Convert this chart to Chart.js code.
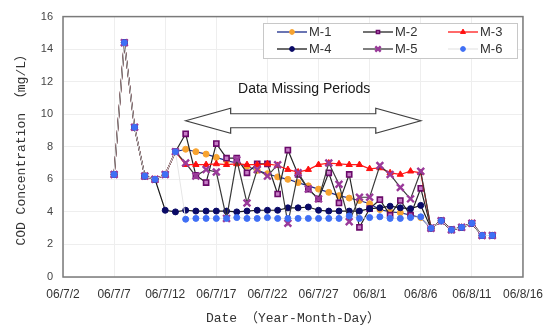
<!DOCTYPE html>
<html>
<head>
<meta charset="utf-8">
<script src="https://cdn.jsdelivr.net/npm/chart.js@4.4.1/dist/chart.umd.min.js"></script>
<style>
  html, body { margin: 0; padding: 0; background: #ffffff; }
  #wrap { width: 553px; height: 330px; }
</style>
</head>
<body>
<div id="wrap"><canvas id="c" width="553" height="330"></canvas></div>
<script>
// Sampling dates (YY/M/D)
const dates = [
  '06/7/7','06/7/8','06/7/9','06/7/10','06/7/11','06/7/12','06/7/13','06/7/14',
  '06/7/15','06/7/16','06/7/17','06/7/18','06/7/19','06/7/20','06/7/21','06/7/22',
  '06/7/23','06/7/24','06/7/25','06/7/26','06/7/27','06/7/28','06/7/29','06/7/30',
  '06/7/31','06/8/1','06/8/2','06/8/3','06/8/4','06/8/5','06/8/6','06/8/7',
  '06/8/8','06/8/9','06/8/10','06/8/11','06/8/12','06/8/13'
];

// COD concentration (mg/L) per monitoring point
const m1 = [6.3,14.4,9.2,6.2,6.0,6.3,7.7,7.85,7.7,7.55,7.35,7.15,7.0,6.8,6.55,6.35,6.15,6.0,5.8,5.6,5.4,5.2,5.0,4.85,4.7,4.5,4.15,4.0,3.95,3.8,3.65,3.0,3.45,2.9,3.05,3.3,2.55,2.55];
const m2 = [6.3,14.4,9.2,6.2,6.0,6.3,7.7,8.8,6.25,5.8,8.2,7.3,7.3,6.4,6.95,6.95,5.1,7.8,6.3,5.4,4.8,6.4,4.55,6.3,3.05,4.2,4.75,3.8,4.7,3.8,5.45,3.0,3.45,2.9,3.05,3.3,2.55,2.55];
const m3 = [6.3,14.4,9.2,6.2,6.0,6.3,7.7,6.9,6.9,6.9,6.95,6.9,6.95,6.9,6.9,6.95,6.85,6.6,6.45,6.6,6.9,7.0,6.95,6.9,6.9,6.65,6.7,6.4,6.3,6.5,6.4,3.0,3.45,2.9,3.05,3.3,2.55,2.55];
const m4 = [6.3,14.4,9.2,6.2,6.0,4.1,4.0,4.1,4.05,4.05,4.05,4.05,4.0,4.05,4.1,4.1,4.1,4.25,4.25,4.3,4.1,4.05,4.05,4.05,4.05,4.2,4.25,4.35,4.25,4.2,4.4,3.0,3.45,2.9,3.05,3.3,2.55,2.55];
const m5 = [6.3,14.4,9.2,6.2,6.0,6.3,7.7,7.0,6.2,6.6,6.45,3.6,7.2,4.55,6.6,6.2,6.9,3.3,6.4,5.4,4.8,7.0,5.7,3.4,4.9,4.9,6.85,6.3,5.5,4.8,6.5,3.0,3.45,2.9,3.05,3.3,2.55,2.55];
const m6 = [6.3,14.4,9.2,6.2,6.0,6.3,7.7,3.55,3.6,3.6,3.6,3.6,3.65,3.6,3.6,3.65,3.6,3.6,3.6,3.6,3.6,3.6,3.6,3.75,3.6,3.65,3.7,3.6,3.6,3.65,3.7,3.0,3.45,2.9,3.05,3.3,2.55,2.55];

// x-axis tick labels, one every 5 days starting 06/7/2
const tickLabels = ['06/7/2','06/7/7','06/7/12','06/7/17','06/7/22','06/7/27','06/8/1','06/8/6','06/8/11','06/8/16'];

const seriesNames = ['M-1','M-2','M-3','M-4','M-5','M-6'];

// Gap in data shown by the double arrow (days since 06/7/2, concentration level)
const gapFrom = 12.0, gapTo = 35.0, gapLevel = 9.6;
const gapText = 'Data Missing Periods';

// days elapsed since 06/7/2
function dayOf(s) {
  const p = s.split('/');
  const m = +p[1], d = +p[2];
  return m === 7 ? d - 2 : d + 29;
}
function pts(vals) { return dates.map((d, i) => ({ x: dayOf(d), y: vals[i] })); }

const styles = [
  { line: '#1a2a8a', lw: 1.1, ps: 'circle',   r: 3,   bg: '#f7a330', bc: '#f7a330', bw: 1 },
  { line: '#262626', lw: 1.2, ps: 'rect',     r: 3.6, bg: '#c77dc7', bc: '#6a0a6a', bw: 1.6 },
  { line: '#ff1a1a', lw: 1.2, ps: 'triangle', r: 3.6, bg: '#ff1010', bc: '#ff1010', bw: 1 },
  { line: '#1a1a1a', lw: 1.2, ps: 'circle',   r: 3,   bg: '#0a0a66', bc: '#0a0a66', bw: 1 },
  { line: '#3a3a3a', lw: 1.2, ps: 'crossRot', r: 4.8, bg: '#9a3a9a', bc: '#9a3a9a', bw: 2.4 },
  { line: '#e6e6e6', lw: 1.0, ps: 'circle',   r: 3,   bg: '#3f6ff5', bc: '#3f6ff5', bw: 1 }
];

const seriesValues = [m1, m2, m3, m4, m5, m6];

const datasets = seriesValues.map((v, i) => ({
  label: seriesNames[i],
  data: pts(v),
  borderColor: styles[i].line,
  borderWidth: styles[i].lw,
  pointStyle: styles[i].ps,
  pointRadius: styles[i].r,
  pointBackgroundColor: styles[i].bg,
  pointBorderColor: styles[i].bc,
  pointBorderWidth: styles[i].bw,
  tension: 0,
  fill: false,
  order: 6 - i   // later series paint over earlier ones
}));

function drawMarker(ctx, st, x, y) {
  ctx.save();
  ctx.fillStyle = st.bg;
  ctx.strokeStyle = st.bc;
  ctx.lineWidth = st.bw;
  const r = st.r;
  ctx.beginPath();
  if (st.ps === 'circle') {
    ctx.arc(x, y, r, 0, Math.PI * 2);
    ctx.fill(); ctx.stroke();
  } else if (st.ps === 'rect') {
    const s = r * Math.SQRT1_2 * 2 * 0.75;
    ctx.rect(x - s / 2, y - s / 2, s, s);
    ctx.fill(); ctx.stroke();
  } else if (st.ps === 'triangle') {
    ctx.moveTo(x, y - r);
    ctx.lineTo(x + r * 0.87, y + r * 0.5);
    ctx.lineTo(x - r * 0.87, y + r * 0.5);
    ctx.closePath();
    ctx.fill(); ctx.stroke();
  } else if (st.ps === 'crossRot') {
    const d = r * 0.7;
    ctx.moveTo(x - d, y - d); ctx.lineTo(x + d, y + d);
    ctx.moveTo(x + d, y - d); ctx.lineTo(x - d, y + d);
    ctx.stroke();
  }
  ctx.restore();
}

// frame around the plotting area
const frame = {
  id: 'frame',
  afterDraw(chart) {
    const a = chart.chartArea, ctx = chart.ctx;
    ctx.save();
    ctx.strokeStyle = '#7a7a7a';
    ctx.lineWidth = 1.5;
    ctx.strokeRect(a.left, a.top, a.right - a.left, a.bottom - a.top);
    ctx.restore();
  }
};

// double-headed block arrow marking the gap period, with its caption
const gapArrow = {
  id: 'gapArrow',
  afterDatasetsDraw(chart) {
    const xs = chart.scales.x, ys = chart.scales.y, ctx = chart.ctx;
    const x0 = xs.getPixelForValue(gapFrom), x1 = xs.getPixelForValue(gapTo);
    const yc = ys.getPixelForValue(gapLevel);
    const head = 45, bh = 7, hh = 12.5;
    ctx.save();
    ctx.beginPath();
    ctx.moveTo(x0, yc);
    ctx.lineTo(x0 + head, yc - hh);
    ctx.lineTo(x0 + head, yc - bh);
    ctx.lineTo(x1 - head, yc - bh);
    ctx.lineTo(x1 - head, yc - hh);
    ctx.lineTo(x1, yc);
    ctx.lineTo(x1 - head, yc + hh);
    ctx.lineTo(x1 - head, yc + bh);
    ctx.lineTo(x0 + head, yc + bh);
    ctx.lineTo(x0 + head, yc + hh);
    ctx.closePath();
    ctx.fillStyle = '#ffffff';
    ctx.fill();
    ctx.strokeStyle = '#404040';
    ctx.lineWidth = 1.2;
    ctx.stroke();

    ctx.fillStyle = '#1a1a1a';
    ctx.font = '14px "Liberation Sans", Arial, sans-serif';
    ctx.textAlign = 'center';
    ctx.textBaseline = 'middle';
    ctx.fillText(gapText, (x0 + x1) / 2 + 1, yc - 32);
    ctx.restore();
  }
};

// boxed legend, line sample with marker, three columns by two rows
const boxLegend = {
  id: 'boxLegend',
  afterDraw(chart) {
    const ctx = chart.ctx, a = chart.chartArea;
    const bx = a.left + 200, by = 23, bw = 254, bh = 35;
    ctx.save();
    ctx.fillStyle = '#ffffff';
    ctx.fillRect(bx, by, bw, bh);
    ctx.strokeStyle = '#c8c8c8';
    ctx.lineWidth = 1;
    ctx.strokeRect(bx + 0.5, by + 0.5, bw, bh);
    const colX = [bx + 14, bx + 100, bx + 185];
    const rowY = [by + 9, by + 26];
    ctx.font = '13px "Liberation Sans", Arial, sans-serif';
    ctx.textBaseline = 'middle';
    ctx.textAlign = 'left';
    seriesNames.forEach((name, i) => {
      const st = styles[i];
      const x = colX[i % 3], y = rowY[Math.floor(i / 3)];
      ctx.strokeStyle = st.line;
      ctx.lineWidth = 1.3;
      ctx.beginPath();
      ctx.moveTo(x, y); ctx.lineTo(x + 30, y);
      ctx.stroke();
      drawMarker(ctx, Object.assign({}, st, { r: st.r * 0.8 }), x + 15, y);
      ctx.fillStyle = '#333333';
      ctx.fillText(name, x + 32, y + 0.5);
    });
    ctx.restore();
  }
};

new Chart(document.getElementById('c'), {
  type: 'line',
  data: { datasets },
  options: {
    responsive: false,
    animation: false,
    devicePixelRatio: 1,
    layout: { padding: { top: 14, right: 22, left: 0, bottom: 0 } },
    plugins: { legend: { display: false }, tooltip: { enabled: false } },
    scales: {
      x: {
        type: 'linear',
        min: 0, max: 45,
        afterFit(s) { s.height = 53; },
        afterBuildTicks(s) { s.ticks = tickLabels.map((_, i) => ({ value: i * 5 })); },
        ticks: {
          autoSkip: false, maxRotation: 0, padding: 10,
          color: '#333333',
          font: { family: '"Liberation Sans", Arial, sans-serif', size: 12 },
          callback: (v) => tickLabels[Math.round(v / 5)]
        },
        grid: { color: '#eeeeee', drawTicks: false },
        border: { display: false },
        title: {
          display: true,
          text: 'Date （Year-Month-Day）',
          color: '#333333',
          font: { family: '"Liberation Mono", "Noto Sans CJK JP", monospace', size: 13 },
          padding: { top: 0, bottom: 4 }
        }
      },
      y: {
        min: 0, max: 16,
        afterFit(s) { s.width = 63; },
        ticks: {
          stepSize: 2, padding: 10,
          color: '#444444',
          font: { family: '"Liberation Sans", Arial, sans-serif', size: 11 }
        },
        grid: { color: '#eeeeee', drawTicks: false },
        border: { display: false },
        title: {
          display: true,
          text: 'COD Concentration （mg/L）',
          color: '#333333',
          font: { family: '"Liberation Mono", "Noto Sans CJK JP", monospace', size: 13 },
          padding: { top: 14, bottom: 0 }
        }
      }
    }
  },
  plugins: [frame, gapArrow, boxLegend]
});
</script>
</body>
</html>
